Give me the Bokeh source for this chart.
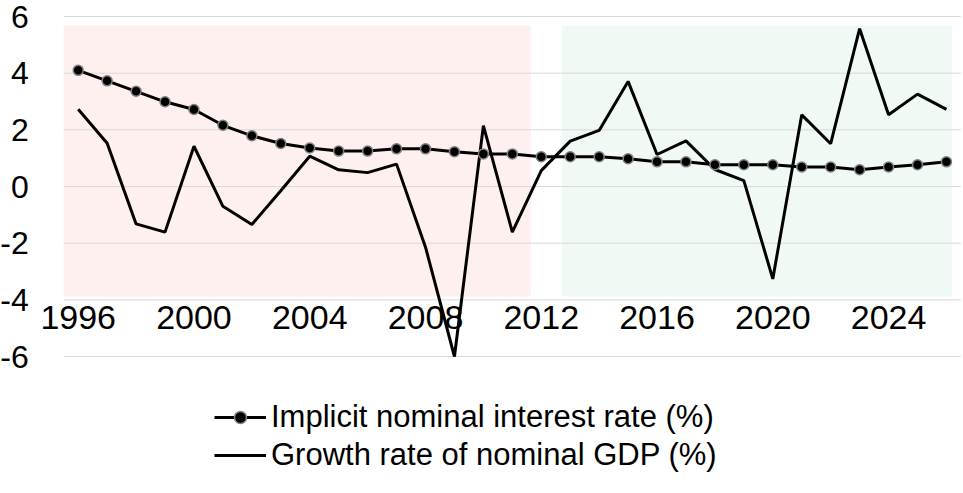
from bokeh.plotting import figure
from bokeh.models import FixedTicker, Legend, LegendItem, Range1d
from bokeh.embed import file_html
from bokeh.resources import INLINE

# Annual series, 1996-2026
years = list(range(1996, 2027))
interest_rate = [4.10, 3.73, 3.36, 2.99, 2.72, 2.16, 1.79, 1.52, 1.36, 1.25,
                 1.25, 1.33, 1.33, 1.23, 1.15, 1.15, 1.05, 1.05, 1.05, 0.98,
                 0.87, 0.87, 0.77, 0.77, 0.77, 0.69, 0.69, 0.59, 0.69, 0.77,
                 0.87]
gdp_growth = [2.73, 1.53, -1.32, -1.61, 1.42, -0.70, -1.34, -0.15, 1.07, 0.59,
              0.49, 0.79, -2.14, -6.00, 2.15, -1.61, 0.56, 1.60, 1.98, 3.71,
              1.13, 1.61, 0.60, 0.21, -3.26, 2.53, 1.51, 5.57, 2.53, 3.26,
              2.72]

year_ticks = [1996, 2000, 2004, 2008, 2012, 2016, 2020, 2024]
year_labels = ["1996", "2000", "2004", "2008", "2012", "2016", "2020", "2024"]
value_ticks = [-6, -4, -2, 0, 2, 4, 6]
value_labels = ["-6", "-4", "-2", "0", "2", "4", "6"]

# Extent of the plotting area along the year axis
area_start, area_end = 1995.5, 2026.5

# Shaded periods behind the series
period_start = [1995.5, 2012.72]
period_end = [2011.64, 2026.19]
period_top = [5.68, 5.68]
period_bottom = [-3.88, -3.88]
period_colors = ["#fff0f0", "#f0f9f4"]

FONT = "Liberation Sans"

# The frame spans the whole canvas so that the axis labels, which sit
# inside it, are never clipped; the axes are pinned at fixed coordinates.
p = figure(width=963, height=493,
           x_range=Range1d(1993.315, 2026.52),
           y_range=Range1d(-10.835, 6.565),
           output_backend="svg", toolbar_location=None,
           min_border_left=0, min_border_right=2,
           min_border_top=0, min_border_bottom=0)
p.outline_line_color = None
p.background_fill_color = "white"
p.border_fill_color = "white"
p.grid.visible = False

bands = p.quad(left=period_start, right=period_end, top=period_top,
               bottom=period_bottom, fill_color=period_colors, line_color=None)
bands.level = "image"

# horizontal gridlines across the plotting area
grid = p.segment(x0=[area_start] * len(value_ticks), y0=value_ticks,
                 x1=[area_end] * len(value_ticks), y1=value_ticks,
                 line_color="#d9d9d9", line_width=1)
grid.level = "underlay"

gdp_line = p.line(years, gdp_growth, line_color="black", line_width=3)
rate_line = p.line(years, interest_rate, line_color="black", line_width=3)
rate_dots = p.scatter(years, interest_rate, size=10, fill_color="black",
                      line_color="#808080", line_width=1.5)

yax = p.yaxis[0]
yax.ticker = FixedTicker(ticks=value_ticks)
yax.major_label_overrides = dict(zip(value_ticks, value_labels))
yax.fixed_location = area_start
yax.axis_line_color = None
yax.major_tick_line_color = None
yax.minor_tick_line_color = None
yax.major_label_standoff = 29
yax.major_label_text_font = FONT
yax.major_label_text_font_size = "32px"
yax.major_label_text_color = "black"

xax = p.xaxis[0]
xax.ticker = FixedTicker(ticks=year_ticks)
xax.major_label_overrides = dict(zip(year_ticks, year_labels))
xax.fixed_location = -4
xax.axis_line_color = None
xax.major_tick_line_color = None
xax.minor_tick_line_color = None
xax.major_label_standoff = 0
xax.major_label_text_font = FONT
xax.major_label_text_font_size = "34px"
xax.major_label_text_color = "black"

legend = Legend(items=[
    LegendItem(label="Implicit nominal interest rate (%)", renderers=[rate_line, rate_dots]),
    LegendItem(label="Growth rate of nominal GDP (%)", renderers=[gdp_line]),
], location=(214, 20))
legend.background_fill_alpha = 0
legend.border_line_color = None
legend.label_text_font = FONT
legend.label_text_font_size = "31px"
legend.label_text_line_height = 1.0
legend.label_text_color = "black"
legend.glyph_width = 52
legend.glyph_height = 30
legend.label_standoff = 5
legend.spacing = 2
legend.padding = 0
legend.margin = 0
p.add_layout(legend)

open("out.html", "w").write(file_html(p, INLINE))
